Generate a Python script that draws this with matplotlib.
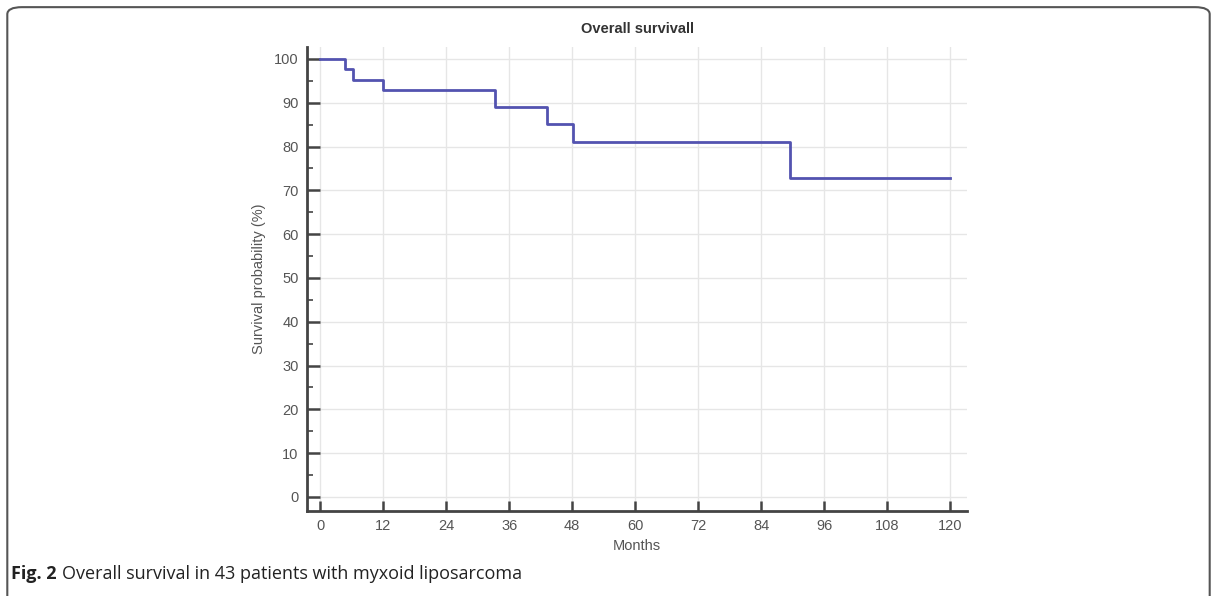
import matplotlib
matplotlib.use("Agg")
import matplotlib.pyplot as plt
from matplotlib.patches import FancyBboxPatch
from matplotlib.ticker import MultipleLocator

plt.rcParams["font.family"] = ["Liberation Sans", "DejaVu Sans"]

# ---------------- Data ----------------
months = [0, 4.8, 6.3, 12.0, 33.3, 43.2, 48.1, 89.5, 120]
survival = [100, 97.7, 95.3, 92.9, 89.1, 85.1, 81.0, 72.9, 72.9]
x_ticks = [0, 12, 24, 36, 48, 60, 72, 84, 96, 108, 120]
y_ticks = [0, 10, 20, 30, 40, 50, 60, 70, 80, 90, 100]

# ---------------- Figure ----------------
fig = plt.figure(figsize=(12.17, 5.96), dpi=100)
ax = fig.add_axes([0.2523, 0.1426, 0.5423, 0.7784])

ax.step(months, survival, where="post", color="#5353b0", lw=2.0, zorder=3)

ax.set_xlim(-2.5, 123.2)
ax.set_ylim(-3.2, 102.7)
ax.set_xticks(x_ticks)
ax.set_yticks(y_ticks)
ax.yaxis.set_minor_locator(MultipleLocator(5))
ax.grid(True, which="major", color="#e6e6e6", lw=1.0, zorder=0)

for side in ["top", "right"]:
    ax.spines[side].set_visible(False)
for side in ["left", "bottom"]:
    ax.spines[side].set_color("#444444")
    ax.spines[side].set_linewidth(2.0)

ax.tick_params(axis="both", which="major", direction="in", color="#444444",
               width=1.8, labelsize=10.5, labelcolor="#555555", pad=6)
ax.tick_params(axis="y", which="major", length=9)
ax.tick_params(axis="x", which="major", length=7)
ax.tick_params(axis="y", which="minor", direction="in", length=4.5,
               width=1.2, color="#444444")

ax.set_xlabel("Months", fontsize=10.5, color="#555555", labelpad=4)
ax.set_ylabel("Survival probability (%)", fontsize=10.5, color="#555555", labelpad=6)
ax.set_title("Overall survivall", fontsize=10.5, fontweight="bold",
             color="#333333", pad=10)

# caption: bold "Fig. 2" followed by the plain text
renderer = fig.canvas.get_renderer()
lead = fig.text(0.009, 0.028, "Fig. 2", fontsize=13, fontweight="bold",
                family="Open Sans", color="#222222", va="baseline")
bb = lead.get_window_extent(renderer=renderer)
x_next = (bb.x1 + 5) / fig.bbox.width
fig.text(x_next, 0.028, "Overall survival in 43 patients with myxoid liposarcoma",
         fontsize=13, family="Open Sans", color="#222222", va="baseline")

# rounded frame around the whole figure
frame = FancyBboxPatch((0.006, -0.02), 0.988, 1.008,
                       boxstyle="round,pad=0,rounding_size=0.012",
                       transform=fig.transFigure, fill=False,
                       edgecolor="#555555", lw=1.5, clip_on=False)
fig.patches.append(frame)

fig.savefig("out.png", dpi=100)
